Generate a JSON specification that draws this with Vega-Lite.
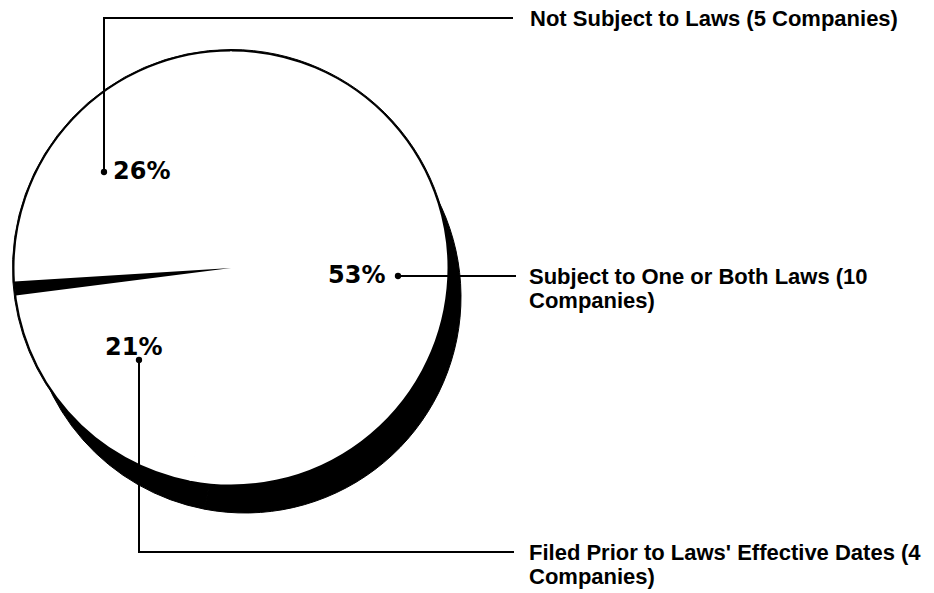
{
  "$schema": "https://vega.github.io/schema/vega-lite/v6.json",
  "width": 934,
  "height": 593,
  "autosize": {"type": "fit", "contains": "padding"},
  "padding": 0,
  "background": "white",
  "config": {"view": {"stroke": null}},
  "datasets": {
    "slices": [
      {"category": "Subject to One or Both Laws", "companies": 10, "pct": 53, "seq": 1},
      {"category": "Filed Prior to Laws' Effective Dates", "companies": 4, "pct": 21, "seq": 2},
      {"category": "Not Subject to Laws", "companies": 5, "pct": 26, "seq": 3}
    ],
    "leaders": [
      {"x": 104, "y": 172, "x2": 104, "y2": 17},
      {"x": 103, "y": 18, "x2": 513, "y2": 18},
      {"x": 398, "y": 276, "x2": 516, "y2": 276},
      {"x": 139, "y": 360, "x2": 139, "y2": 553},
      {"x": 138, "y": 552, "x2": 514, "y2": 552}
    ],
    "dots": [
      {"x": 104, "y": 172},
      {"x": 398, "y": 276},
      {"x": 139, "y": 360}
    ],
    "pctLabels": [
      {"t": "26%", "x": 113, "y": 172},
      {"t": "53%", "x": 328, "y": 276},
      {"t": "21%", "x": 105, "y": 348}
    ],
    "catLabels": [
      {"t": "Not Subject to Laws (5 Companies)", "x": 530, "y": 9},
      {"t": "Subject to One or Both Laws (10\nCompanies)", "x": 529, "y": 267},
      {"t": "Filed Prior to Laws' Effective Dates (4\nCompanies)", "x": 529, "y": 543}
    ]
  },
  "layer": [
    {
      "data": {"name": "slices"},
      "mark": {"type": "arc", "fill": "black", "stroke": "black", "strokeWidth": 1, "innerRadius": 160, "outerRadius": 216},
      "encoding": {
        "theta": {"field": "pct", "type": "quantitative", "stack": true},
        "order": {"field": "seq", "type": "ordinal"},
        "x": {"datum": 245, "type": "quantitative", "scale": {"domain": [0, 934], "nice": false, "zero": false}, "axis": null},
        "y": {"datum": 297, "type": "quantitative", "scale": {"domain": [0, 593], "nice": false, "zero": false, "reverse": true}, "axis": null}
      }
    },
    {
      "data": {"name": "slices"},
      "mark": {"type": "arc", "fill": "black", "stroke": "black", "strokeWidth": 1, "innerRadius": 212, "outerRadius": 218.5},
      "encoding": {
        "theta": {"field": "pct", "type": "quantitative", "stack": true},
        "order": {"field": "seq", "type": "ordinal"},
        "x": {"datum": 231, "type": "quantitative"},
        "y": {"datum": 268, "type": "quantitative"}
      }
    },
    {
      "data": {"name": "slices"},
      "mark": {"type": "arc", "fill": "white", "stroke": "white", "strokeWidth": 2, "outerRadius": 215.5},
      "encoding": {
        "theta": {"field": "pct", "type": "quantitative", "stack": true},
        "order": {"field": "seq", "type": "ordinal"},
        "x": {"datum": 231, "type": "quantitative"},
        "y": {"datum": 268, "type": "quantitative"}
      }
    },
    {
      "data": {"values": [{}]},
      "mark": {"type": "arc", "fill": "black", "theta": 4.585, "theta2": 4.65, "innerRadius": 0, "outerRadius": 217},
      "encoding": {
        "x": {"datum": 231, "type": "quantitative"},
        "y": {"datum": 268, "type": "quantitative"}
      }
    },
    {
      "data": {"name": "leaders"},
      "mark": {"type": "rule", "color": "black", "strokeWidth": 2},
      "encoding": {
        "x": {"field": "x", "type": "quantitative"},
        "y": {"field": "y", "type": "quantitative"},
        "x2": {"field": "x2"},
        "y2": {"field": "y2"}
      }
    },
    {
      "data": {"name": "dots"},
      "mark": {"type": "point", "filled": true, "color": "black", "opacity": 1, "size": 40},
      "encoding": {
        "x": {"field": "x", "type": "quantitative"},
        "y": {"field": "y", "type": "quantitative"}
      }
    },
    {
      "data": {"name": "pctLabels"},
      "mark": {"type": "text", "font": "DejaVu Sans", "fontWeight": "bold", "fontSize": 24, "align": "left", "baseline": "middle", "color": "black"},
      "encoding": {
        "x": {"field": "x", "type": "quantitative"},
        "y": {"field": "y", "type": "quantitative"},
        "text": {"field": "t"}
      }
    },
    {
      "data": {"name": "catLabels"},
      "mark": {"type": "text", "font": "Liberation Sans", "fontWeight": "bold", "fontSize": 22, "align": "left", "baseline": "top", "lineBreak": "\n", "lineHeight": 24, "color": "black"},
      "encoding": {
        "x": {"field": "x", "type": "quantitative"},
        "y": {"field": "y", "type": "quantitative"},
        "text": {"field": "t"}
      }
    }
  ]
}
